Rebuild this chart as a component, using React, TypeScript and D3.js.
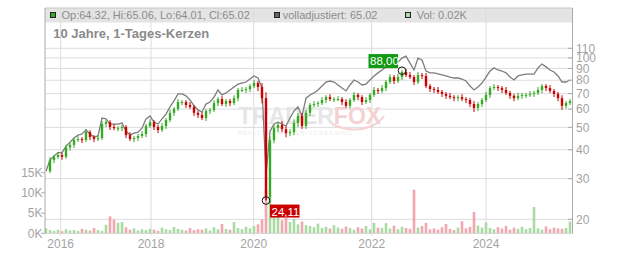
import React from "react";
import * as d3 from "d3";

const closes = [
  32.3, 36.1, 37.2, 38.0, 37.3, 40.9, 42.0, 44.1, 44.5, 44.1,
  47.7, 45.4, 44.5, 45.0, 51.7, 52.7, 50.2, 49.6, 49.6, 50.2,
  46.3, 44.5, 45.0, 45.9, 46.8, 50.7, 52.7, 50.2, 48.7, 50.7,
  53.8, 57.8, 60.1, 64.4, 64.4, 62.5, 61.3, 57.8, 56.6, 54.9,
  58.9, 59.5, 63.7, 66.3, 63.1, 65.1, 63.7, 66.9, 72.6, 72.6,
  73.3, 75.5, 77.8, 74.8, 66.9, 25.0, 44.0, 49.6, 51.2, 49.1,
  47.2, 47.7, 52.2, 56.0, 50.7, 57.8, 62.5, 63.1, 63.7, 65.7,
  67.6, 66.3, 66.3, 66.3, 64.4, 62.0, 65.7, 69.1, 67.6, 64.4,
  65.7, 69.1, 72.6, 71.9, 74.0, 78.6, 82.6, 79.4, 82.6, 86.9,
  84.3, 82.6, 78.6, 84.3, 83.5, 75.5, 73.3, 72.6, 71.2, 69.8,
  68.5, 67.6, 66.9, 67.6, 66.3, 65.7, 63.1, 60.7, 63.1, 65.7,
  69.1, 74.0, 74.8, 74.0, 72.6, 70.5, 68.5, 66.9, 68.5, 69.1,
  69.1, 69.8, 70.5, 72.6, 75.5, 74.0, 71.9, 69.8, 66.9, 62.0,
  63.7, 65.0,
];

// intra-period wick extent above / below the candle body, in percent
const wickUpPct = [
  2, 3, 2, 3, 2, 3, 2, 2, 3, 2,
  3, 2, 2, 3, 3, 2, 2, 3, 2, 2,
  2, 3, 2, 2, 3, 2, 3, 2, 2, 3,
  2, 3, 2, 3, 2, 2, 3, 2, 2, 3,
  2, 2, 3, 2, 3, 2, 2, 3, 2, 3,
  2, 2, 3, 2, 4, 6, 4, 3, 3, 4,
  3, 3, 4, 3, 3, 3, 2, 3, 2, 3,
  2, 3, 2, 3, 2, 3, 2, 3, 2, 2,
  3, 2, 3, 2, 3, 2, 3, 2, 3, 2,
  3, 3, 2, 3, 2, 3, 2, 2, 3, 2,
  2, 3, 2, 2, 3, 2, 2, 3, 2, 2,
  3, 2, 3, 2, 2, 3, 2, 2, 3, 2,
  2, 3, 2, 3, 2, 2, 3, 2, 2, 3,
  2, 2,
];
const wickDownPct = [
  3, 2, 3, 2, 3, 2, 3, 3, 2, 3,
  2, 3, 3, 2, 2, 3, 3, 2, 3, 3,
  3, 2, 3, 3, 2, 3, 2, 3, 3, 2,
  3, 2, 3, 2, 3, 3, 2, 3, 3, 2,
  3, 3, 2, 3, 2, 3, 3, 2, 3, 2,
  3, 3, 2, 4, 5, 3, 6, 3, 4, 3,
  4, 3, 3, 4, 3, 3, 3, 2, 3, 2,
  3, 2, 3, 2, 3, 2, 3, 2, 3, 3,
  2, 3, 2, 3, 2, 3, 2, 3, 2, 3,
  2, 2, 3, 2, 3, 2, 3, 3, 2, 3,
  3, 2, 3, 3, 2, 3, 3, 4, 3, 3,
  2, 3, 2, 3, 3, 2, 3, 3, 2, 3,
  3, 2, 3, 2, 3, 3, 2, 3, 3, 4,
  3, 2,
];

const adjusted = [
  32.3, 36.1, 37.6, 38.9, 38.9, 41.4, 43.1, 45.0, 46.3, 46.8,
  48.7, 46.8, 45.4, 45.9, 54.9, 54.4, 51.7, 51.7, 51.7, 52.2,
  48.2, 46.3, 47.2, 47.7, 49.6, 54.4, 56.0, 52.7, 51.7, 54.4,
  57.1, 61.3, 65.1, 69.8, 69.8, 68.5, 65.7, 62.0, 59.5, 58.3,
  63.1, 64.4, 67.6, 72.6, 69.1, 70.5, 72.6, 74.8, 76.9, 77.8,
  78.6, 81.0, 83.5, 81.8, 74.0, 31.1, 48.0, 51.7, 52.7, 51.7,
  50.7, 54.9, 58.9, 61.3, 56.0, 66.9, 69.1, 70.5, 72.6, 75.5,
  78.6, 79.4, 78.6, 76.3, 74.0, 71.9, 76.3, 80.2, 78.6, 76.3,
  77.0, 80.2, 83.5, 86.1, 88.6, 91.4, 93.1, 94.9, 95.8, 99.8,
  101.8, 94.9, 88.6, 99.8, 97.9, 87.7, 86.1, 86.1, 85.2, 84.3,
  83.5, 82.6, 81.8, 81.8, 81.0, 79.4, 75.5, 72.6, 74.8, 77.8,
  82.6, 87.7, 90.5, 88.6, 87.7, 86.1, 82.6, 80.2, 83.5, 84.3,
  85.1, 85.1, 85.1, 90.5, 94.0, 91.4, 88.6, 86.9, 83.5, 78.6,
  78.6, 80.2,
];

const volumesK = [
  1.2, 0.8, 0.6, 0.9, 0.5, 1.0, 0.7, 0.8, 0.6, 1.1,
  0.9, 0.7, 1.3, 0.8, 0.6, 2.1, 4.2, 3.4, 2.6, 2.8,
  1.5, 0.9, 1.2, 0.7, 1.0, 0.8, 1.1, 0.9, 0.6, 1.4,
  1.0, 0.8, 1.6, 1.1, 0.9, 0.7, 1.3, 0.8, 1.0, 0.9,
  1.2, 0.7, 1.5, 1.0, 2.3, 1.1, 0.9, 2.8, 1.3, 1.0,
  1.6, 1.2, 1.8, 2.2, 3.5, 10.8, 9.2, 6.5, 4.8, 3.2,
  5.0, 2.8, 3.6, 2.2, 2.9, 2.0, 1.8, 1.5, 2.4, 1.3,
  1.6, 1.2, 2.0, 1.4, 1.1, 1.7, 1.3, 0.9, 1.5, 1.2,
  1.8, 1.0, 2.6, 1.4, 1.3, 2.5, 1.2, 1.9, 1.0, 1.6,
  1.3, 1.1, 10.8, 1.4, 1.8, 2.6, 1.0, 1.2, 0.9, 1.5,
  2.3, 1.1, 0.8, 1.4, 3.0, 1.2, 1.6, 5.3, 1.9, 1.4,
  2.7, 1.3, 1.0, 1.5, 1.2, 1.8, 0.9, 1.4, 1.1, 1.6,
  1.0, 1.3, 6.5, 1.2, 0.9, 1.7, 1.0, 1.4, 1.2, 1.1,
  1.3, 2.9,
];

const yearLabels = ["2016", "2018", "2020", "2022", "2024"];
const yearPositions = [3.675, 26.25, 51.93, 81.43, 110]; // sample index at which each year begins
const priceTicks = [20, 30, 40, 50, 60, 70, 80, 90, 100, 110];
const volumeTicks = [0, 5, 10, 15];
const highMark = { index: 89, value: 88.0, label: "88,00" };
const lowMark = { index: 55, value: 24.11, label: "24,11" };
const title = "10 Jahre, 1-Tages-Kerzen";
const legendOHLC = "Op:64.32, Hi:65.06, Lo:64.01, Cl:65.02";
const legendAdj = "volladjustiert: 65.02";
const legendVol = "Vol: 0.02K";

// ---- layout ----
const W = 632;
const H = 253;
const L = 45;
const R = 572.5;
const T = 8;
const B = 233.3;
const FONT = "'Liberation Sans', Arial, sans-serif";
const GREEN = "#33aa22";
const RED = "#cc0000";
const AXIS_TXT = "#a3a3a3";
const GRID = "#dcdcdc";

export default function App() {
  const n = closes.length;
  const x = d3.scaleLinear().domain([0, n - 1]).range([46, 570]);
  const y = d3.scaleLog().domain([20, 110]).range([219.3, 48.3]);
  const yv = d3.scaleLinear().domain([0, 15]).range([B, 172.7]);

  const adjLine = d3
    .line<number>()
    .x((_, i) => x(i))
    .y((d) => y(d))(adjusted) as string;

  const candleW = 2.4;
  const volW = 2.6;

  const hx = x(highMark.index);
  const hy = y(highMark.value);
  const lx = x(lowMark.index);
  const ly = y(lowMark.value);

  return (
    <svg
      width={W}
      height={H}
      style={{ position: "absolute", left: 0, top: 0, background: "#fff" }}
      fontFamily={FONT}
    >
      {/* legend band */}
      <rect x={L} y={T} width={R - L} height={14.5} fill="#e4e4e4" />

      {/* grid */}
      {priceTicks.map((p) => (
        <line key={"hg" + p} x1={L} x2={R} y1={y(p)} y2={y(p)} stroke={GRID} strokeWidth={1} />
      ))}
      {yearPositions.map((p, i) => (
        <line key={"vg" + i} x1={x(p)} x2={x(p)} y1={T} y2={B + 2} stroke={GRID} strokeWidth={1} />
      ))}

      {/* watermark */}
      <text x={238} y={124} fontSize={23} fontWeight="bold" fill="#e6e6e6">
        TRADER<tspan fill="#f5d2d2">FOX</tspan>
      </text>
      <text x={238} y={134.5} fontSize={5.5} fill="#ebebeb" letterSpacing={1.3}>
        REALTIME AKTIEN-SCREENING
      </text>
      <path d="M332,124 Q352,134 372,126 Q380,122 384,116" fill="none" stroke="#f5d2d2" strokeWidth={2} />

      {/* volume */}
      {volumesK.map((v, i) => {
        const up = i === 0 ? true : closes[i] >= closes[i - 1];
        return (
          <rect
            key={"v" + i}
            x={x(i) - volW / 2}
            y={yv(v)}
            width={volW}
            height={B - yv(v)}
            fill={up ? "#a8dba2" : "#f2a6ae"}
          />
        );
      })}

      {/* adjusted line */}
      <path d={adjLine} fill="none" stroke="#7d7d7d" strokeWidth={1.3} />

      {/* candles */}
      {closes.map((c, i) => {
        if (i === 0) return null;
        const o = closes[i - 1];
        const up = c >= o;
        const top = Math.max(o, c);
        const bot = Math.min(o, c);
        const y1 = y(top);
        const y2 = y(bot);
        const col = up ? GREEN : RED;
        return (
          <g key={"c" + i}>
            <line
              x1={x(i)}
              x2={x(i)}
              y1={y(top * (1 + wickUpPct[i] / 100))}
              y2={y(bot * (1 - wickDownPct[i] / 100))}
              stroke={col}
              strokeWidth={1}
            />
            <rect x={x(i) - candleW / 2} y={y1} width={candleW} height={Math.max(1, y2 - y1)} fill={col} />
          </g>
        );
      })}
      {/* wick to the low */}
      <line x1={lx} x2={lx} y1={y(closes[lowMark.index])} y2={ly} stroke={RED} strokeWidth={1.2} />

      {/* frame / axes */}
      <line x1={L} x2={R} y1={T} y2={T} stroke="#c8c8c8" />
      <line x1={L} x2={R} y1={B} y2={B} stroke="#d0d0d0" />
      <line x1={L} x2={L} y1={T} y2={B} stroke="#aaaaaa" />
      <line x1={R} x2={R} y1={T} y2={B} stroke="#aaaaaa" />

      {/* right price axis */}
      {priceTicks.map((p) => (
        <g key={"pt" + p}>
          <line x1={R - 4.5} x2={R} y1={y(p)} y2={y(p)} stroke="#aaaaaa" />
          <text x={576} y={y(p)} dy="0.35em" fontSize={12} fill={AXIS_TXT}>
            {p}
          </text>
        </g>
      ))}

      {/* left volume axis */}
      {volumeTicks.map((v) => (
        <g key={"vt" + v}>
          <line x1={L - 4} x2={L} y1={yv(v)} y2={yv(v)} stroke="#aaaaaa" />
          <text x={42.5} y={yv(v)} dy="0.35em" fontSize={12} fill={AXIS_TXT} textAnchor="end">
            {v + "K"}
          </text>
        </g>
      ))}

      {/* bottom year labels */}
      {yearPositions.map((p, i) => (
        <text key={"yl" + i} x={x(p)} y={247.7} fontSize={12} fill={AXIS_TXT} textAnchor="middle">
          {yearLabels[i]}
        </text>
      ))}

      {/* legend */}
      <rect x={50.5} y={12.5} width={5} height={5} fill="#33aa33" stroke="#222" strokeWidth={1} />
      <text x={61.5} y={19} fontSize={11} fill="#8c8c8c">
        {legendOHLC}
      </text>
      <rect x={274.5} y={12.5} width={5} height={5} fill="#666666" stroke="#222" strokeWidth={1} />
      <text x={282.7} y={19} fontSize={11} fill="#8c8c8c">
        {legendAdj}
      </text>
      <rect x={405.5} y={12.5} width={5} height={5} fill="#aadcaa" stroke="#222" strokeWidth={1} />
      <text x={416.7} y={19} fontSize={11} fill="#8c8c8c">
        {legendVol}
      </text>

      {/* title */}
      <text x={53.3} y={37.7} fontSize={13} fontWeight="bold" fill="#8a8a8a">
        {title}
      </text>

      {/* high marker */}
      <circle cx={hx} cy={hy} r={3.8} fill="none" stroke="#111" strokeWidth={1} />
      <rect x={hx - 33.5} y={hy - 16.6} width={29.5} height={14} fill="#119911" />
      <text x={hx - 32} y={hy - 5.3} fontSize={11.5} fill="#ffffff">
        {highMark.label}
      </text>

      {/* low marker */}
      <circle cx={lx} cy={ly} r={3.8} fill="none" stroke="#111" strokeWidth={1} />
      <rect x={lx + 4} y={ly + 4} width={29.5} height={13} fill="#cc0000" />
      <text x={lx + 5.5} y={ly + 15} fontSize={11.5} fill="#ffffff">
        {lowMark.label}
      </text>
    </svg>
  );
}
